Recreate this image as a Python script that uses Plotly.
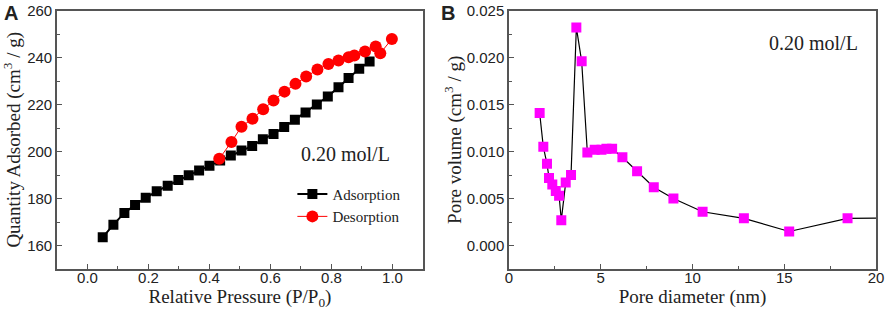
import plotly.graph_objects as go

# Panel A: N2 isotherm
ads_p = [0.050, 0.085, 0.121, 0.156, 0.191, 0.227, 0.263, 0.298, 0.332, 0.366, 0.400, 0.435,
         0.470, 0.505, 0.540, 0.575, 0.610, 0.645, 0.680, 0.715, 0.752, 0.788, 0.823, 0.856,
         0.891, 0.925]
ads_q = [163.5, 168.9, 173.9, 177.3, 180.3, 183.1, 185.5, 187.9, 189.9, 191.9, 194.0, 196.2,
         198.3, 200.4, 202.4, 205.2, 207.5, 210.4, 213.5, 216.6, 220.0, 223.4, 227.4, 231.3,
         235.2, 238.3]
des_p = [0.998, 0.960, 0.945, 0.910, 0.875, 0.856, 0.823, 0.790, 0.754, 0.717, 0.682, 0.646,
         0.610, 0.576, 0.541, 0.505, 0.472, 0.432]
des_q = [247.9, 241.8, 244.7, 242.6, 240.9, 240.1, 238.7, 237.3, 234.9, 231.9, 228.8, 225.5,
         221.7, 218.0, 214.0, 210.6, 204.1, 196.9]

# Panel B: pore size distribution
pore_d = [1.67, 1.87, 2.07, 2.18, 2.36, 2.55, 2.73, 2.85, 3.09, 3.38, 3.67, 3.96, 4.27,
          4.67, 5.04, 5.31, 5.62, 6.18, 6.98, 7.89, 8.96, 10.55, 12.80, 15.27, 18.45, 24.0]
pore_v = [0.0141, 0.0105, 0.0087, 0.0072, 0.0065, 0.0058, 0.0053, 0.0027, 0.0067, 0.0075,
          0.0232, 0.0196, 0.0099, 0.0102, 0.0102, 0.0103, 0.0103, 0.0094, 0.0079, 0.0062,
          0.0050, 0.0036, 0.0029, 0.0015, 0.0029, 0.0030]

SERIF = "Liberation Serif, Times New Roman, serif"
SANS = "Liberation Sans, Arial, sans-serif"
AX = "#555555"

fig = go.Figure()
fig.add_trace(go.Scatter(x=ads_p, y=ads_q, mode="lines+markers", name="Adsorption",
                         line=dict(color="black", width=2),
                         marker=dict(symbol="square", size=10, color="black"),
                         xaxis="x", yaxis="y"))
fig.add_trace(go.Scatter(x=des_p, y=des_q, mode="lines+markers", name="Desorption",
                         line=dict(color="#ff0000", width=1),
                         marker=dict(symbol="circle", size=12, color="#ff0000"),
                         xaxis="x", yaxis="y"))
fig.add_trace(go.Scatter(x=pore_d, y=pore_v, mode="lines+markers", showlegend=False,
                         line=dict(color="black", width=1.2),
                         marker=dict(symbol="square", size=10, color="#ff00ff"),
                         xaxis="x2", yaxis="y2"))

def axis_common():
    return dict(showline=True, linecolor=AX, linewidth=1.5, mirror=True, automargin=False,
                ticks="inside", ticklen=5, tickwidth=1, tickcolor=AX,
                showgrid=False, zeroline=False,
                tickfont=dict(family=SANS, size=15, color="#222"))

ydom = [0.132, 0.966]
TF = dict(family=SERIF, size=19, color="#222")
xa = axis_common(); xa.update(domain=[0.0643, 0.4774], range=[-0.1, 1.1], dtick=0.2, tick0=0,
    tickformat=".1f", anchor="y", ticklabelstandoff=-6,
    minor=dict(dtick=0.1, ticks="inside", ticklen=3, tickcolor=AX),
    title=dict(text="Relative Pressure (P/P<sub>0</sub>)", font=TF, standoff=0))
ya = axis_common(); ya.update(domain=ydom, range=[150, 260], dtick=20, tick0=0, anchor="x",
    minor=dict(dtick=10, ticks="inside", ticklen=3, tickcolor=AX),
    title=dict(text="Quantity Adsorbed (cm<sup>3</sup> / g)", font=TF, standoff=2))
xb = axis_common(); xb.update(domain=[0.5745, 0.9887], range=[0, 20], dtick=5, tick0=0, anchor="y2",
    ticklabelstandoff=-6,
    minor=dict(dtick=2.5, ticks="inside", ticklen=3, tickcolor=AX),
    title=dict(text="Pore diameter (nm)", font=TF, standoff=0))
yb = axis_common(); yb.update(domain=ydom, range=[-0.0025, 0.025], dtick=0.005, tick0=0, anchor="x2",
    tickformat=".3f",
    minor=dict(dtick=0.0025, ticks="inside", ticklen=3, tickcolor=AX),
    title=dict(text="Pore volume (cm<sup>3</sup> / g)", font=TF, standoff=0))

fig.update_layout(
    width=886, height=310, margin=dict(l=0, r=0, t=0, b=0),
    paper_bgcolor="white", plot_bgcolor="white",
    xaxis=xa, yaxis=ya, xaxis2=xb, yaxis2=yb,
    legend=dict(x=0.33, y=0.427, xanchor="left", yanchor="top", bgcolor="rgba(0,0,0,0)",
                font=dict(family=SERIF, size=15, color="#222"), tracegroupgap=0, itemwidth=30),
    annotations=[
        dict(text="<b>A</b>", xref="paper", yref="paper", x=0.002, y=1.0, xanchor="left", yanchor="top",
             showarrow=False, font=dict(family=SANS, size=20, color="#222")),
        dict(text="<b>B</b>", xref="paper", yref="paper", x=0.496, y=1.0, xanchor="left", yanchor="top",
             showarrow=False, font=dict(family=SANS, size=20, color="#222")),
        dict(text="0.20 mol/L", xref="x", yref="y", x=0.845, y=199.1, showarrow=False,
             font=dict(family=SERIF, size=20, color="#222")),
        dict(text="0.20 mol/L", xref="x2", yref="y2", x=16.57, y=0.0215, showarrow=False,
             font=dict(family=SERIF, size=20, color="#222")),
    ],
)

fig.write_html("out.html", config={"displayModeBar": False},
               post_script="document.body.style.margin='0';document.body.style.overflow='hidden';")
